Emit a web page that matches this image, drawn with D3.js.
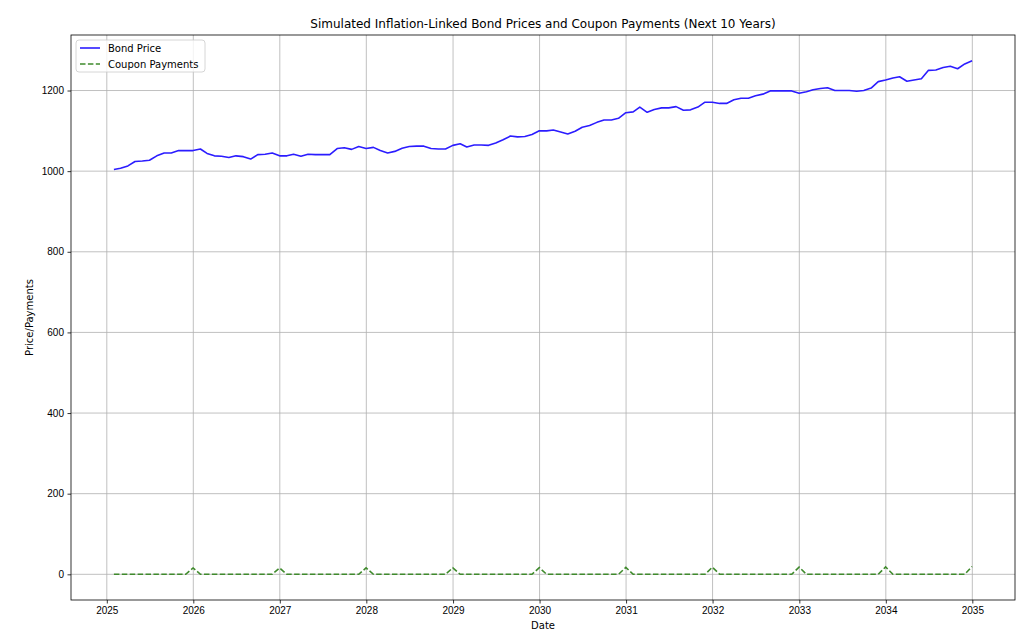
<!DOCTYPE html>
<html lang="en">
<head>
<meta charset="UTF-8">
<title>Simulated Inflation-Linked Bond Prices and Coupon Payments</title>
<script src="https://d3js.org/d3.v7.min.js"></script>
<style>
  body { margin: 0; background: #fff; }
  svg { font-family: "DejaVu Sans", sans-serif; }
  .tick text { font-size: 10px; fill: #000; }
</style>
</head>
<body>
<script>
// monthly month-end dates, Jan 2025 .. Dec 2034
const startMonth = "2025-01-31";
const monthCount = 120;

const bondPrice = [
  1004, 1007, 1013, 1024, 1025, 1027, 1038, 1045, 1045, 1051, 1051, 1051,
  1055, 1044, 1038, 1037, 1034, 1038, 1036, 1030, 1041, 1042, 1045, 1038,
  1038, 1042, 1037, 1042, 1041, 1041, 1041, 1056, 1058, 1054, 1061, 1056,
  1059, 1051, 1045, 1049, 1057, 1061, 1062, 1062, 1056, 1055, 1055, 1064,
  1068, 1060, 1065, 1065, 1064, 1070, 1078, 1087, 1085, 1086, 1091, 1100,
  1100, 1102, 1097, 1092, 1099, 1109, 1113, 1121, 1127, 1127, 1131, 1145,
  1147, 1159, 1146, 1153, 1157, 1157, 1160, 1151, 1152, 1159, 1171, 1171,
  1168, 1168, 1177, 1181, 1181, 1187, 1191, 1199, 1199, 1199, 1199, 1193,
  1197, 1202, 1205, 1207, 1200, 1200, 1200, 1198, 1200, 1206, 1222, 1226,
  1231, 1234, 1223, 1226, 1229, 1250, 1251, 1257, 1260, 1254, 1266, 1274
];

// coupon paid each December, zero otherwise
const couponDecember = [15.8, 15.6, 16.0, 16.0, 16.5, 17.2, 17.6, 18.0, 18.4, 19.5];

const yTicks = [0, 200, 400, 600, 800, 1000, 1200];
const xTickYears = [2025, 2026, 2027, 2028, 2029, 2030, 2031, 2032, 2033, 2034, 2035];

const width = 1024, height = 638;
const margin = {top: 35, right: 9, bottom: 38, left: 71};
const iw = width - margin.left - margin.right;
const ih = height - margin.top - margin.bottom;

const first = new Date(startMonth + "T00:00:00Z");
const dates = d3.range(monthCount).map(i =>
  new Date(Date.UTC(first.getUTCFullYear(), first.getUTCMonth() + i + 1, 0)));

const coupons = dates.map((d, i) =>
  d.getUTCMonth() === 11 ? couponDecember[Math.floor(i / 12)] : 0);

// matplotlib-like 5% margins
const tMin = +dates[0], tMax = +dates[dates.length - 1];
const tPad = (tMax - tMin) * 0.05;
const x = d3.scaleUtc()
  .domain([new Date(tMin - tPad), new Date(tMax + tPad)])
  .range([0, iw]);

const vMin = 0, vMax = d3.max(bondPrice);
const vPad = (vMax - vMin) * 0.05;
const y = d3.scaleLinear()
  .domain([vMin - vPad, vMax + vPad])
  .range([ih, 0]);

const svg = d3.select("body").append("svg")
  .attr("width", width)
  .attr("height", height);

const g = svg.append("g")
  .attr("transform", `translate(${margin.left},${margin.top})`);

const xTicks = xTickYears.map(yr => new Date(Date.UTC(yr, 0, 1)));

// grid
g.append("g").selectAll("line")
  .data(xTicks).enter().append("line")
  .attr("x1", d => x(d)).attr("x2", d => x(d))
  .attr("y1", 0).attr("y2", ih)
  .attr("stroke", "#b0b0b0").attr("stroke-width", 0.8);
g.append("g").selectAll("line")
  .data(yTicks).enter().append("line")
  .attr("x1", 0).attr("x2", iw)
  .attr("y1", d => y(d)).attr("y2", d => y(d))
  .attr("stroke", "#b0b0b0").attr("stroke-width", 0.8);

// axes
const xAxis = g.append("g")
  .attr("transform", `translate(0,${ih})`)
  .call(d3.axisBottom(x).tickValues(xTicks).tickFormat(d3.utcFormat("%Y"))
    .tickSize(3.5).tickPadding(3.5));
const yAxis = g.append("g")
  .call(d3.axisLeft(y).tickValues(yTicks).tickFormat(d3.format("d"))
    .tickSize(3.5).tickPadding(3.5));
[xAxis, yAxis].forEach(a => {
  a.select(".domain").remove();
  a.selectAll(".tick line").attr("stroke", "#000").attr("stroke-width", 0.8);
});

// lines
const priceLine = d3.line().x((d, i) => x(dates[i])).y(d => y(d));
g.append("path")
  .datum(bondPrice)
  .attr("fill", "none")
  .attr("stroke", "#2b1cff")
  .attr("stroke-width", 1.6)
  .attr("stroke-linejoin", "round")
  .attr("d", priceLine);

g.append("path")
  .datum(coupons)
  .attr("fill", "none")
  .attr("stroke", "#3f8a2c")
  .attr("stroke-width", 1.6)
  .attr("stroke-dasharray", "5.5,2.4")
  .attr("d", priceLine);

// frame
g.append("rect")
  .attr("width", iw).attr("height", ih)
  .attr("fill", "none").attr("stroke", "#000").attr("stroke-width", 0.8);

// legend
const legend = g.append("g").attr("transform", "translate(5,5)");
legend.append("rect")
  .attr("width", 129).attr("height", 32).attr("rx", 3)
  .attr("fill", "#fff").attr("fill-opacity", 0.8)
  .attr("stroke", "#cccccc").attr("stroke-width", 0.8);
const items = [
  {label: "Bond Price", color: "#2b1cff", dash: null},
  {label: "Coupon Payments", color: "#3f8a2c", dash: "5.5,2.4"}
];
items.forEach((it, i) => {
  const yy = 8 + i * 16;
  legend.append("line")
    .attr("x1", 4).attr("x2", 24).attr("y1", yy).attr("y2", yy)
    .attr("stroke", it.color).attr("stroke-width", 1.6)
    .attr("stroke-dasharray", it.dash);
  legend.append("text")
    .attr("x", 32).attr("y", yy).attr("dy", "0.35em")
    .attr("font-size", 10).text(it.label);
});

// titles
svg.append("text")
  .attr("x", margin.left + iw / 2).attr("y", 28)
  .attr("text-anchor", "middle").attr("font-size", 12)
  .text("Simulated Inflation-Linked Bond Prices and Coupon Payments (Next 10 Years)");
svg.append("text")
  .attr("x", margin.left + iw / 2).attr("y", 629)
  .attr("text-anchor", "middle").attr("font-size", 10)
  .text("Date");
svg.append("text")
  .attr("transform", `translate(33,${margin.top + ih / 2}) rotate(-90)`)
  .attr("text-anchor", "middle").attr("font-size", 10)
  .text("Price/Payments");
</script>
</body>
</html>
